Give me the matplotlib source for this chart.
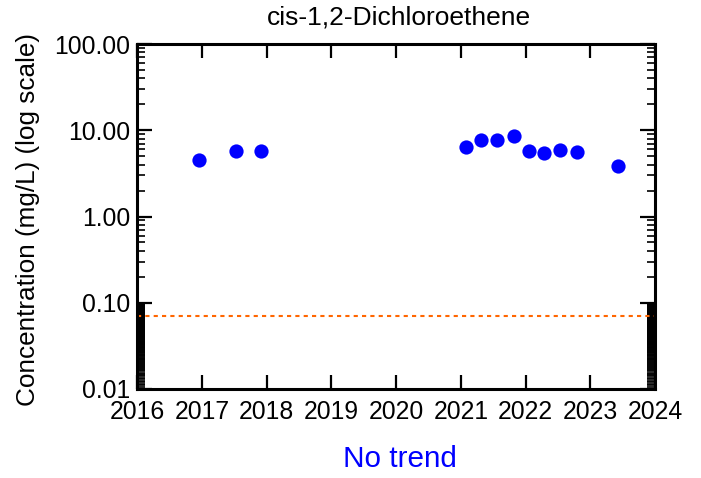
import matplotlib
matplotlib.use("Agg")
import matplotlib.pyplot as plt
import matplotlib.dates as mdates
import numpy as np
import pandas as pd
from matplotlib.ticker import FixedLocator, FixedFormatter, NullFormatter

plt.rcParams['font.family'] = ['Liberation Sans', 'DejaVu Sans']

title = "cis-1,2-Dichloroethene"
ylabel = "Concentration (mg/L) (log scale)"
trend_text = "No trend"

sample_dates = ["2016-12-16", "2017-07-12", "2017-12-01", "2021-01-30", "2021-04-27",
                "2021-07-23", "2021-10-26", "2022-01-19", "2022-04-16", "2022-07-12",
                "2022-10-19", "2023-06-07"]
concentrations = [4.5, 5.7, 5.7, 6.4, 7.7, 7.7, 8.6, 5.7, 5.5, 5.9, 5.6, 3.9]
reference_level = 0.07

year_ticks = [2016, 2017, 2018, 2019, 2020, 2021, 2022, 2023, 2024]
y_ticks = [0.01, 0.1, 1, 10, 100]
y_tick_labels = ["0.01", "0.10", "1.00", "10.00", "100.00"]

dates = pd.to_datetime(sample_dates)

fig = plt.figure(figsize=(7.01, 4.78), dpi=100)
ax = fig.add_axes([137/701, 1-389/478, (655-137)/701, (389-44)/478])

ax.scatter(dates, concentrations, s=105, color='#0000FF', zorder=3, linewidths=0)
ax.axhline(reference_level, color='#FF6600', linestyle=(0, (2, 2)), linewidth=1.5, zorder=2)

ax.set_yscale('log')
ax.set_ylim(0.01, 100)
ax.set_xlim(pd.Timestamp(f"{year_ticks[0]}-01-01"), pd.Timestamp(f"{year_ticks[-1]}-01-01"))

ax.xaxis.set_major_locator(FixedLocator([mdates.date2num(pd.Timestamp(f"{y}-01-01")) for y in year_ticks]))
ax.xaxis.set_major_formatter(FixedFormatter([str(y) for y in year_ticks]))

ax.yaxis.set_major_locator(FixedLocator(y_ticks))
ax.yaxis.set_major_formatter(FixedFormatter(y_tick_labels))
minor = []
for dec in [0.1, 1, 10]:
    minor += [dec * k for k in range(2, 10)]
minor += list(np.arange(0.0105, 0.0999, 0.0005))
ax.yaxis.set_minor_locator(FixedLocator(minor))
ax.yaxis.set_minor_formatter(NullFormatter())

for s in ax.spines.values():
    s.set_linewidth(2.2)

ax.tick_params(axis='x', which='major', direction='in', length=10, width=1.6,
               top=True, bottom=True, labelsize=17.8, pad=8)
ax.tick_params(axis='y', which='major', direction='in', length=11, width=1.6,
               left=True, right=True, labelsize=17.8, pad=5)
ax.tick_params(axis='y', which='minor', direction='in', length=5.5, width=1.2,
               left=True, right=True)

fig.text(399/701, 1-18/478, title, ha='center', va='center', fontsize=19)
fig.text(400/701, 1-459/478, trend_text, ha='center', va='center', fontsize=21.4, color='#0000FF')
fig.text(28.5/701, 1-220/478, ylabel, ha='center', va='center', rotation=90, fontsize=18.8)

fig.savefig("out.png", dpi=100)
